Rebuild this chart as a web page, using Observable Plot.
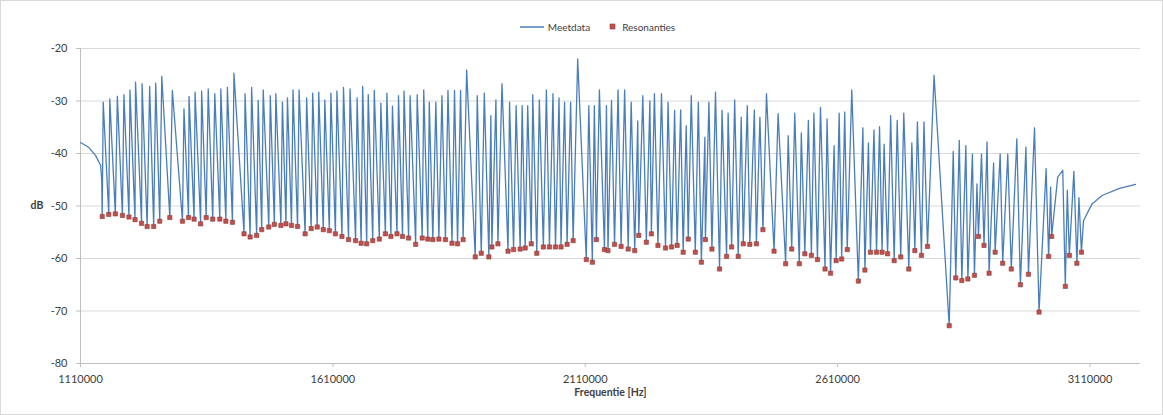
<!DOCTYPE html>
<html><head><meta charset="utf-8">
<script src="https://cdn.jsdelivr.net/npm/d3@7"></script>
<script src="https://cdn.jsdelivr.net/npm/@observablehq/plot@0.6"></script>
<style>
body{margin:0;background:#fff;font-family:Lato,"Open Sans",sans-serif;}
#wrap{position:relative;width:1163px;height:415px;overflow:hidden;background:#fff;}
#frame{position:absolute;left:0;top:0;width:1163px;height:415px;box-sizing:border-box;border:1px solid #d9d9d9;pointer-events:none;}
#legend{height:40px;display:flex;justify-content:center;align-items:flex-end;padding-left:32px;padding-bottom:7px;box-sizing:border-box;font-size:10px;color:#404040;}
#legend .item{display:flex;align-items:center;margin:0 9px;}
#legend svg{margin-right:4px;}
</style></head>
<body>
<div id="wrap">
  <div id="legend">
    <span class="item"><svg width="24" height="8"><line x1="0" y1="4" x2="24" y2="4" stroke="#4a7ebb" stroke-width="1.5"/></svg>Meetdata</span>
    <span class="item"><svg width="10" height="8"><rect x="2" y="1" width="5" height="5" fill="#c0504d" stroke="#8b3a38" stroke-width="0.6"/></svg>Resonanties</span>
  </div>
  <div id="chart"></div>
  <div id="frame"></div>
</div>
<script>
// Smooth start and end of the measured curve (Hz, dB)
const startFreq = [1110000, 1126000, 1140000, 1150000, 1152000];
const startDb   = [-37.9, -38.8, -40.4, -42.3, -45.0];
const endFreq = [3097000, 3114000, 3134000, 3167000, 3200000];
const endDb   = [-52.8, -49.6, -48.0, -46.7, -45.9];

// Resonances (dips, red markers)
const dipFreq = [
  1153000,1166000,1179000,1193000,1206000,1218000,1231000,1242000,1255000,1267000,1287000,1312000,1324000,1335000,1348000,1359000,1372000,1386000,1398000,1411000,1434000,
  1446000,1459000,1469000,1483000,1494000,1507000,1517000,1528000,1540000,1555000,1567000,1579000,1591000,1603000,1615000,1628000,1641000,1655000,1666000,1677000,1689000,1702000,1714000,1725000,1737000,1748000,1760000,1774000,1787000,1798000,
  1808000,1820000,1833000,1846000,1857000,1868000,1892000,1904000,1919000,1925000,1937000,1957000,1968000,1981000,1991000,2003000,2014000,2027000,2039000,2051000,2062000,2074000,2086000,2112000,2124000,2132000,2148000,
  2155000,2168000,2181000,2195000,2208000,2216000,2231000,2241000,2254000,2269000,2281000,2292000,2304000,2314000,2328000,2340000,2348000,2361000,2376000,2390000,2400000,2413000,2423000,2436000,2449000,2462000,2484000,
  2507000,2519000,2534000,2545000,2558000,2570000,2585000,2596000,2607000,2618000,2629000,2651000,2664000,2675000,2687000,2698000,2709000,2722000,2735000,2751000,2763000,2776000,2788000,2831000,
  2844000,2856000,2868000,2881000,2889000,2900000,2910000,2922000,2937000,2954000,2972000,2988000,3009000,3028000,3034000,3061000,3069000,3084000,3093000
];
const dipDb = [
  -52.0,-51.6,-51.5,-51.8,-52.1,-52.6,-53.3,-53.9,-53.9,-52.9,-52.2,-52.9,-52.2,-52.5,-53.4,-52.2,-52.5,-52.5,-52.9,-53.1,-55.3,
  -55.9,-55.6,-54.5,-54.0,-53.5,-53.7,-53.4,-53.7,-53.9,-55.3,-54.3,-54.0,-54.5,-54.7,-55.3,-55.8,-56.4,-56.6,-57.1,-57.2,-56.6,-56.3,-55.3,-55.8,-55.3,-55.8,-56.1,-57.3,-56.1,-56.3,
  -56.4,-56.3,-56.4,-57.1,-57.2,-56.4,-59.7,-59.0,-59.7,-57.8,-57.2,-58.6,-58.3,-58.2,-58.0,-57.2,-59.0,-57.8,-57.8,-57.8,-57.8,-57.3,-56.6,-60.2,-60.7,-56.4,-58.3,
  -58.5,-57.3,-57.7,-58.2,-58.5,-55.6,-56.9,-55.3,-57.5,-58.0,-57.8,-57.5,-58.8,-56.3,-58.8,-60.7,-56.4,-58.2,-62.0,-59.6,-57.8,-59.6,-57.2,-57.3,-57.2,-54.5,-58.6,
  -61.0,-58.2,-61.0,-59.1,-59.4,-60.2,-62.0,-62.8,-60.4,-60.1,-58.3,-64.3,-62.2,-58.8,-58.8,-58.8,-59.1,-60.4,-59.7,-62.0,-58.5,-59.4,-57.7,-72.8,
  -63.7,-64.2,-63.9,-63.2,-55.8,-57.5,-62.8,-58.8,-60.9,-62.0,-65.0,-63.0,-70.2,-59.6,-55.8,-65.3,-59.4,-60.9,-58.8
];

// Anti-resonance peaks
const peakFreq = [
  1155000,1168000,1183000,1196000,1208000,1219000,1232000,1247000,1259000,1271000,1292000,1315000,1325000,1337000,1350000,1363000,1376000,1388000,1401000,1414000,1436000,
  1449000,1462000,1472000,1486000,1497000,1510000,1520000,1531000,1543000,1558000,1570000,1582000,1594000,1606000,1618000,1631000,1644000,1658000,1669000,1680000,1692000,1705000,1717000,1728000,1740000,1751000,1763000,1777000,1790000,1801000,
  1814000,1826000,1838000,1851000,1863000,1875000,1896000,1910000,1923000,1933000,1945000,1960000,1973000,1985000,1996000,2006000,2019000,2033000,2046000,2058000,2069000,2081000,2095000,2117000,2128000,2138000,2152000,
  2162000,2175000,2188000,2201000,2214000,2224000,2238000,2247000,2261000,2274000,2287000,2299000,2310000,2320000,2334000,2347000,2355000,2368000,2381000,2393000,2406000,2419000,2431000,2445000,2456000,2469000,2492000,
  2512000,2525000,2538000,2552000,2563000,2576000,2589000,2603000,2613000,2624000,2638000,2660000,2671000,2682000,2693000,2702000,2715000,2728000,2741000,2757000,2768000,2781000,2801000,
  2839000,2851000,2864000,2877000,2886000,2895000,2906000,2919000,2932000,2947000,2965000,2983000,3000000,3023000,3032000,3046000,3056000,3065000,3078000,3088000
];
const peakDb = [
  -30.2,-29.6,-29.1,-28.8,-27.9,-26.4,-26.7,-27.2,-26.6,-25.3,-28.0,-31.5,-29.1,-28.3,-28.1,-27.7,-28.6,-27.7,-27.4,-24.7,-28.6,
  -27.4,-29.9,-27.9,-29.0,-28.6,-30.2,-29.4,-27.9,-27.9,-29.4,-28.5,-28.3,-29.8,-28.5,-28.1,-27.4,-27.7,-29.4,-27.2,-28.8,-28.0,-30.4,-28.5,-31.0,-29.0,-28.1,-29.0,-28.8,-27.9,-30.2,
  -30.2,-29.0,-28.0,-28.0,-28.0,-24.1,-29.0,-28.5,-32.8,-29.8,-26.7,-30.2,-30.9,-30.9,-30.9,-28.8,-29.8,-27.9,-28.6,-29.4,-30.2,-30.2,-22.0,-30.9,-30.9,-27.9,-30.9,
  -29.9,-27.9,-27.9,-30.2,-33.8,-29.0,-30.0,-28.6,-28.6,-30.2,-31.8,-31.7,-34.7,-29.0,-30.2,-36.9,-30.2,-28.3,-31.8,-32.3,-29.8,-33.1,-30.9,-31.7,-33.1,-28.6,-32.4,
  -36.6,-32.3,-36.1,-33.7,-32.3,-31.2,-33.4,-38.5,-32.3,-32.1,-27.9,-35.1,-38.0,-35.5,-34.9,-38.2,-32.8,-33.7,-32.3,-38.0,-34.0,-34.0,-25.1,
  -39.6,-37.5,-38.5,-40.1,-45.8,-40.1,-37.8,-41.8,-40.1,-40.1,-37.2,-38.8,-35.1,-42.9,-46.4,-44.5,-43.2,-47.0,-43.4,-48.4
];

const yTicks = [-80, -70, -60, -50, -40, -30, -20];
const xTicks = [1110000, 1610000, 2110000, 2610000, 3110000];

const pts = (fs, ds) => fs.map((f, i) => ({f, db: ds[i]}));
const dips = pts(dipFreq, dipDb);
const meet = [...pts(startFreq, startDb), ...dips, ...pts(peakFreq, peakDb), ...pts(endFreq, endDb)]
  .sort((a, b) => a.f - b.f);

const chart = Plot.plot({
  width: 1163,
  height: 375,
  marginTop: 8,
  marginBottom: 52,
  marginLeft: 80,
  marginRight: 23,
  style: {fontFamily: "Lato, 'Open Sans', sans-serif", fontSize: "11px", color: "#404040", background: "transparent"},
  x: {domain: [1110000, 3210000]},
  y: {domain: [-80, -20]},
  marks: [
    Plot.ruleY(yTicks, {stroke: "#d9d9d9", strokeWidth: 1}),
    Plot.ruleX([1110000], {stroke: "#bfbfbf"}),
    Plot.ruleY([-80], {stroke: "#bfbfbf"}),
    Plot.axisY({ticks: yTicks, tickFormat: d => String(d), tickSize: 4, tickPadding: 9, stroke: "#bfbfbf", label: null}),
    Plot.axisX({ticks: xTicks, tickFormat: d => String(d), tickSize: 4, tickPadding: 8, stroke: "#bfbfbf", label: null}),
    Plot.text(["dB"], {frameAnchor: "left", dx: -50, textAnchor: "start", fontWeight: "bold", fontSize: 10.5, fill: "#404040"}),
    Plot.text(["Frequentie [Hz]"], {frameAnchor: "bottom", dy: 32, fontWeight: "bold", fontSize: 10.5, fill: "#404040"}),
    Plot.line(meet, {x: "f", y: "db", stroke: "#4a7ebb", strokeWidth: 1.3}),
    Plot.dot(dips, {x: "f", y: "db", symbol: "square", r: 2.4, fill: "#c0504d", stroke: "#8b3a38", strokeWidth: 0.6})
  ]
});
document.getElementById("chart").appendChild(chart);
</script>
</body></html>
